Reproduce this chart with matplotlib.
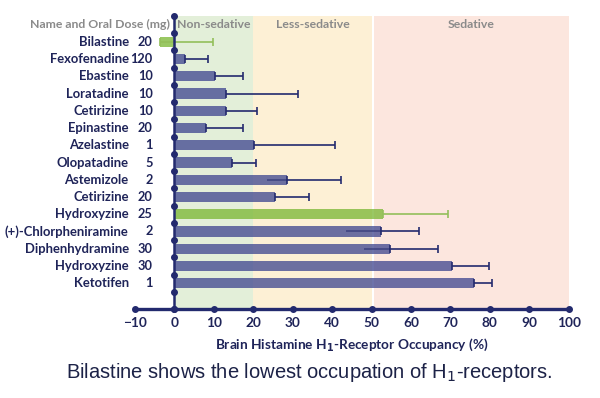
import matplotlib.pyplot as plt
import numpy as np

# data
drugs = ['Bilastine', 'Fexofenadine', 'Ebastine', 'Loratadine', 'Cetirizine',
         'Epinastine', 'Azelastine', 'Olopatadine', 'Astemizole', 'Cetirizine',
         'Hydroxyzine', '(+)-Chlorpheniramine', 'Diphenhydramine', 'Hydroxyzine',
         'Ketotifen']
doses = ['20', '120', '10', '10', '10', '20', '1', '5', '2', '20', '25', '2', '30', '30', '1']
occupancy = [-3.7, 2.6, 10.3, 13.1, 13.0, 7.9, 20.1, 14.7, 28.6, 25.5,
             53.0, 52.3, 54.6, 70.4, 76.0]
upper_err = [13.4, 5.8, 7.1, 18.3, 8.0, 9.5, 20.7, 6.1, 13.7, 8.7,
             16.4, 9.7, 12.2, 9.4, 4.6]
lower_err = [0, 0, 0, 0, 0, 0, 0, 0, 5.1, 0, 0, 8.7, 6.6, 0, 0]
highlight = [True] + [False] * 9 + [True] + [False] * 4

zones = [(0, 20, '#e3efd9', 'Non-sedative'),
         (20, 50, '#fdf0d5', 'Less-sedative'),
         (50.6, 100, '#fce6de', 'Sedative')]

navy = '#232a6e'
text_navy = '#1f2459'
gray = '#8a8a8a'

plt.rcParams['font.family'] = ['Lato', 'DejaVu Sans']

fig = plt.figure(figsize=(6, 3.98), dpi=100)
ax = fig.add_axes([0.225, 0.2236, 0.723, 0.7362])

y = np.arange(len(drugs))
top, bottom = -1.5, 15.5

# sedation zones
for x0, x1, col, lab in zones:
    ax.axvspan(x0, x1, color=col, zorder=0, lw=0)
    ax.text((x0 + x1) / 2, -1.0, lab, ha='center', va='center', fontsize=8.8,
            fontweight='bold', color=gray)

# bars
colors = ['#7ab733' if h else '#3f4690' for h in highlight]
ax.barh(y, occupancy, height=0.6, color=colors, alpha=0.76, zorder=2)

# error bars
for i in range(len(drugs)):
    ecol = '#93bf5a' if highlight[i] else navy
    ax.errorbar(occupancy[i], y[i], xerr=[[0], [upper_err[i]]], fmt='none',
                ecolor=ecol, elinewidth=1.2, capsize=3, capthick=1.2, zorder=3)
    if lower_err[i] > 0:
        ax.hlines(y[i], occupancy[i] - lower_err[i], occupancy[i], color=navy,
                  lw=1.2, alpha=0.6, zorder=3)

# custom axis lines with dot markers
xticks = np.arange(-10, 101, 10)
ax.plot(xticks, [bottom] * len(xticks), color=navy, lw=2.4, marker='o', ms=4,
        clip_on=False, zorder=5)
yt = np.arange(top, bottom + 0.1, 1.0)
ax.plot([0] * len(yt), yt, color=navy, lw=1.8, marker='o', ms=4,
        clip_on=False, zorder=5)

# tick labels
for xt in xticks:
    lab = '\u221210' if xt < 0 else str(xt)
    ax.text(xt, bottom + 0.8, lab, ha='center', va='center', fontsize=9.8,
            fontweight='bold', color=text_navy)

# drug names and doses
for i in range(len(drugs)):
    ax.text(-11.6, y[i], drugs[i], ha='right', va='center', fontsize=9.4,
            fontweight='bold', color=text_navy, clip_on=False)
    ax.text(-5.5, y[i], doses[i], ha='right', va='center', fontsize=9.2,
            fontweight='bold', color=text_navy, clip_on=False)
ax.text(-1.0, -1.0, 'Name and Oral Dose (mg)', ha='right', va='center',
        fontsize=8.8, fontweight='bold', color=gray)

ax.text(45, bottom + 2.05, 'Brain Histamine H$_\\mathbf{1}$-Receptor Occupancy (%)',
        ha='center', va='center', fontsize=9.8, fontweight='bold', color=text_navy)

ax.set_xlim(-10, 100)
ax.set_ylim(bottom, top)
ax.axis('off')

fig.text(0.515, 0.063, 'Bilastine shows the lowest occupation of H$_1$-receptors.',
         ha='center', va='center', fontsize=14.5, color='#1c2247',
         family='Liberation Sans')

fig.savefig('out.png', dpi=100)
